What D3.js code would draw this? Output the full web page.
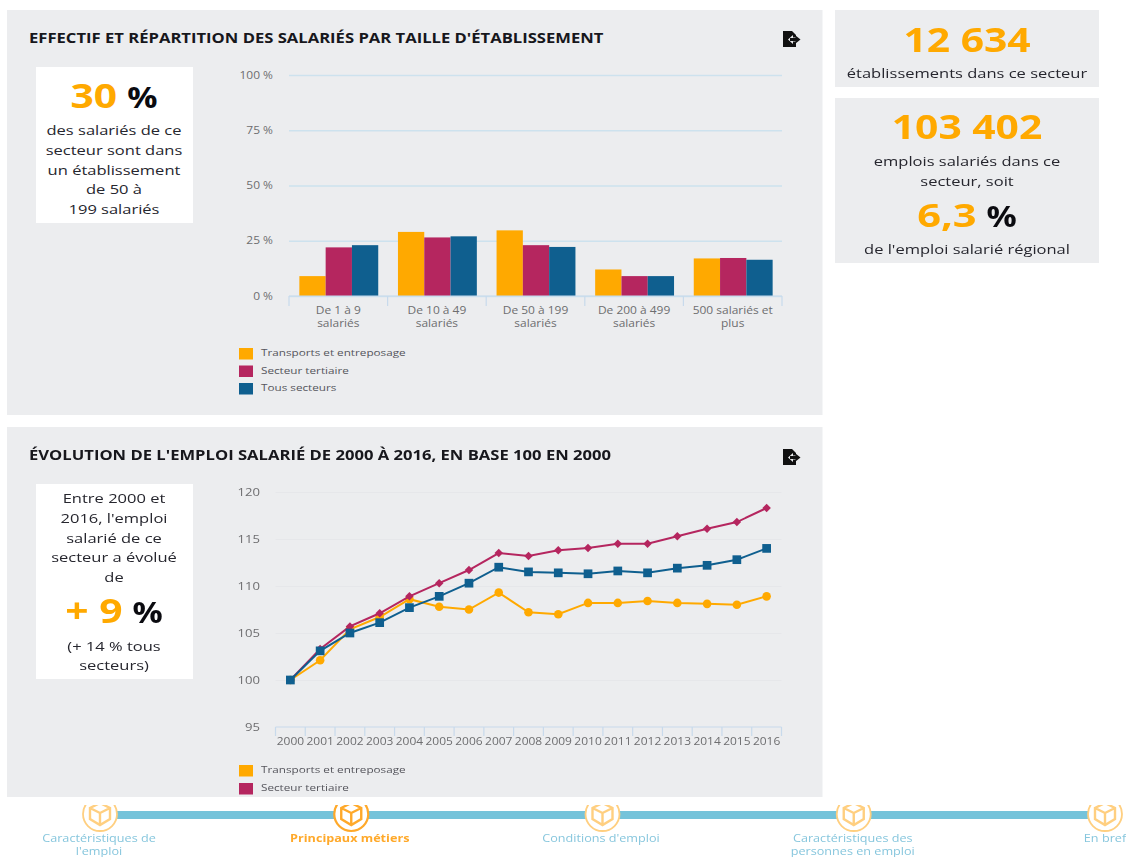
<!DOCTYPE html>
<html lang="fr">
<head>
<meta charset="utf-8">
<title>Emploi salarié</title>
<script src="https://cdn.jsdelivr.net/npm/d3@7"></script>
<style>
html,body{margin:0;padding:0;background:#fff;overflow:hidden}
svg{display:block;font-family:"Open Sans",sans-serif;filter:blur(0.35px)}
</style>
</head>
<body>
<svg id="c" width="1126" height="857"></svg>
<script>
// ---- data ----
const seriesNames = ["Transports et entreposage", "Secteur tertiaire", "Tous secteurs"];
const sizeCategories = ["De 1 à 9\nsalariés", "De 10 à 49\nsalariés", "De 50 à 199\nsalariés", "De 200 à 499\nsalariés", "500 salariés et\nplus"];
const sizeTransports = [9, 29, 29.7, 12, 17];
const sizeTertiaire = [22, 26.5, 23, 9, 17.2];
const sizeTous = [23, 27, 22.2, 9, 16.4];
const sizeTicks = [0, 25, 50, 75, 100];

const years = [2000,2001,2002,2003,2004,2005,2006,2007,2008,2009,2010,2011,2012,2013,2014,2015,2016];
const evoTransports = [100,102.1,105.4,106.7,108.6,107.8,107.5,109.3,107.2,107,108.2,108.2,108.4,108.2,108.1,108,108.9];
const evoTertiaire = [100,103.3,105.7,107.1,108.9,110.3,111.7,113.5,113.2,113.8,114.05,114.5,114.5,115.3,116.1,116.8,118.3];
const evoTous = [100,103.1,105,106.1,107.7,108.9,110.3,112,111.5,111.4,111.3,111.6,111.4,111.9,112.2,112.8,114];
const evoTicks = [95,100,105,110,115,120];

const steps = ["Caractéristiques de\nl'emploi", "Principaux métiers", "Conditions d'emploi", "Caractéristiques des\npersonnes en emploi", "En bref"];
const activeStep = 1;

// ---- style ----
const ORANGE = "#ffa900", CRIMSON = "#b5265f", BLUE = "#0f5f8f";
const colors = [ORANGE, CRIMSON, BLUE];
const PANEL = "#ecedef", INK = "#26262e", GREY = "#6e6e70", AXIS = "#c8daec";
const SX = 1.14, SX_BODY = 1.25, SX_BIG = 1.2, SX_TITLE = 1.187;

const svg = d3.select("#c");

function rect(x, y, w, h, fill) {
  return svg.append("rect").attr("x", x).attr("y", y).attr("width", w).attr("height", h).attr("fill", fill);
}
function txt(parent, x, y, s, size, fill, opt = {}) {
  const sx = opt.sx || SX;
  return parent.append("text")
    .attr("transform", `translate(${x},${y}) scale(${sx},1)`)
    .attr("text-anchor", opt.anchor || "middle")
    .attr("font-size", size)
    .attr("font-weight", opt.weight || 400)
    .attr("fill", fill)
    .text(s);
}
function stretchAxisText(g, dx, y, anchor, size) {
  g.selectAll("text")
    .attr("x", dx / SX).attr("y", y).attr("dy", null)
    .attr("transform", `scale(${SX},1)`)
    .attr("text-anchor", anchor)
    .attr("font-size", size)
    .attr("font-family", '"Open Sans",sans-serif')
    .attr("fill", GREY);
}
function exportIcon(x, y) {
  const g = svg.append("g").attr("transform", `translate(${x},${y})`);
  g.append("path").attr("fill", "#111").attr("d", "M0 0H9L13 4V16H0Z");
  g.append("path").attr("fill", PANEL).attr("d", "M5 8.5L10 4V6.5H18V10.5H10V13Z");
  g.append("path").attr("fill", "#111").attr("d", "M17.5 8.5L12.5 4.5V7H7V10H12.5V12.5Z");
}
function bigPair(x, y, a, b, sizeA, sizeB, gap, sxA = SX_BIG) {
  const g = svg.append("g");
  const ta = txt(g, 0, y, a, sizeA, ORANGE, {weight: 700, anchor: "start", sx: sxA});
  const tb = txt(g, 0, y, b, sizeB, "#0b0b10", {weight: 700, anchor: "start", sx: SX_BIG});
  const wa = ta.node().getComputedTextLength() * sxA;
  const wb = tb.node().getComputedTextLength() * SX_BIG;
  const start = x - (wa + gap + wb) / 2;
  ta.attr("transform", `translate(${start},${y}) scale(${sxA},1)`);
  tb.attr("transform", `translate(${start + wa + gap},${y}) scale(${SX_BIG},1)`);
}

// ---- panels ----
rect(7, 10, 815.5, 405, PANEL);
rect(7, 427, 815.5, 370, PANEL);
rect(835, 10, 264, 77, PANEL);
rect(835, 98, 264, 165, PANEL);
rect(36, 67, 157, 156, "#fff");
rect(36, 484, 157, 195, "#fff");

// ---- titles ----
txt(svg, 29, 43, "EFFECTIF ET RÉPARTITION DES SALARIÉS PAR TAILLE D'ÉTABLISSEMENT", 14, "#17171c", {weight: 700, anchor: "start", sx: SX_TITLE});
txt(svg, 29, 460, "ÉVOLUTION DE L'EMPLOI SALARIÉ DE 2000 À 2016, EN BASE 100 EN 2000", 14, "#17171c", {weight: 700, anchor: "start", sx: SX_TITLE});
exportIcon(783, 31);
exportIcon(783, 449);

// ---- key figures ----
const body = {sx: SX_BODY};
txt(svg, 967, 52, "12 634", 34, ORANGE, {weight: 700, sx: SX_BIG});
txt(svg, 967, 78, "établissements dans ce secteur", 13.2, INK, body);
txt(svg, 967, 139, "103 402", 34, ORANGE, {weight: 700, sx: SX_BIG});
txt(svg, 967, 166, "emplois salariés dans ce", 13.2, INK, body);
txt(svg, 967, 186, "secteur, soit", 13.2, INK, body);
bigPair(967, 227, "6,3", "%", 32, 28, 10, 1.3);
txt(svg, 967, 254, "de l'emploi salarié régional", 13.2, INK, body);

bigPair(114, 108, "30", "%", 34, 28, 10);
["des salariés de ce", "secteur sont dans", "un établissement", "de 50 à", "199 salariés"]
  .forEach((s, i) => txt(svg, 114, [135, 155, 174.5, 194, 214][i], s, 13.2, INK, body));
["Entre 2000 et", "2016, l'emploi", "salarié de ce", "secteur a évolué", "de"]
  .forEach((s, i) => txt(svg, 114, [503, 523, 543, 562, 582][i], s, 13.2, INK, body));
bigPair(114, 623, "+ 9", "%", 34, 28, 10);
txt(svg, 114, 651, "(+ 14 % tous", 13.2, INK, body);
txt(svg, 114, 670, "secteurs)", 13.2, INK, body);

// ---- bar chart ----
const x0 = d3.scaleBand().domain(sizeCategories).range([289, 782]).paddingInner(0.2).paddingOuter(0.1);
const x1 = d3.scaleBand().domain(seriesNames).range([0.5, x0.bandwidth() + 0.5]);
const yB = d3.scaleLinear().domain([0, 100]).range([296, 75]);
const sizeRows = [sizeTransports, sizeTertiaire, sizeTous];

const yAxisB = svg.append("g").attr("transform", "translate(289,0)")
  .call(d3.axisLeft(yB).tickValues(sizeTicks).tickFormat(d => d + " %").tickSize(-493));
yAxisB.select(".domain").remove();
yAxisB.selectAll("line").attr("stroke", "#cde2ee").attr("stroke-width", 1.4);
stretchAxisText(yAxisB, -16, 3, "end", 10.5);

svg.append("g").selectAll("g").data(sizeRows).join("g")
  .attr("fill", (d, i) => colors[i])
  .attr("data-series", (d, i) => seriesNames[i])
  .selectAll("rect").data((row, i) => row.map((v, j) => ({v, j, i}))).join("rect")
  .attr("x", d => x0(sizeCategories[d.j]) + x1(seriesNames[d.i]))
  .attr("width", x1.bandwidth())
  .attr("y", d => yB(d.v))
  .attr("height", d => yB(0) - yB(d.v));

function bandAxis(scale, y, tickLen) {
  const g = svg.append("g").attr("transform", `translate(0,${y})`);
  const [a, b] = scale.range();
  g.append("path").attr("fill", "none").attr("stroke", AXIS).attr("stroke-width", 1.2).attr("d", `M${a} 0H${b}`);
  const n = scale.domain().length;
  g.selectAll("line").data(d3.range(n + 1)).join("line")
    .attr("x1", i => a + i * (b - a) / n).attr("x2", i => a + i * (b - a) / n)
    .attr("y1", 0).attr("y2", tickLen)
    .attr("stroke", AXIS).attr("stroke-width", 1.2);
  return g;
}
const axB = bandAxis(x0, 296, 10);
sizeCategories.forEach(c => {
  c.split("\n").forEach((s, i) => {
    txt(axB, x0(c) + x0.bandwidth() / 2, 18 + i * 13, s, 10.5, GREY);
  });
});

function legend(names, ys) {
  const g = svg.append("g");
  names.forEach((n, i) => {
    g.append("rect").attr("x", 239).attr("y", ys[i]).attr("width", 14).attr("height", 11.5).attr("fill", colors[i]);
    txt(g, 261, ys[i] + 8, n, 9.5, "#55555c", {anchor: "start", sx: 1.235});
  });
}
legend(seriesNames, [348, 365.5, 383]);

// ---- line chart ----
const xL = d3.scaleBand().domain(years).range([275.5, 781.5]);
const yL = d3.scaleLinear().domain([95, 120]).range([727, 492]);

const yAxisL = svg.append("g").attr("transform", "translate(275.5,0)")
  .call(d3.axisLeft(yL).tickValues(evoTicks).tickSize(-506));
yAxisL.select(".domain").remove();
yAxisL.selectAll("line").attr("stroke", "#e6e7ea").attr("stroke-width", 1);
yAxisL.selectAll(".tick").filter(d => d === 95).select("line").remove();
stretchAxisText(yAxisL, -15.5, 3.5, "end", 11.5);

const axL = bandAxis(xL, 727, 9);
years.forEach(y => txt(axL, xL(y) + xL.bandwidth() / 2, 17.5, y, 11, GREY, {sx: 1.09}));

const line = d3.line().x((d, i) => xL(years[i]) + xL.bandwidth() / 2).y(d => yL(d));
const evoRows = [evoTransports, evoTertiaire, evoTous];
const symbols = [d3.symbolCircle, d3.symbolDiamond2, d3.symbolSquare];
const symbolSizes = [58, 46, 76];
evoRows.forEach((row, s) => {
  const g = svg.append("g").attr("data-series", seriesNames[s]);
  g.append("path").attr("d", line(row)).attr("fill", "none").attr("stroke", colors[s]).attr("stroke-width", 2);
  g.selectAll("path.m").data(row).join("path").attr("class", "m")
    .attr("transform", (d, i) => `translate(${xL(years[i]) + xL.bandwidth() / 2},${yL(d)})`)
    .attr("d", d3.symbol().type(symbols[s]).size(symbolSizes[s])())
    .attr("fill", colors[s]);
});
legend(seriesNames.slice(0, 2), [765, 783]);

// ---- timeline ----
const xS = d3.scalePoint().domain(steps).range([100, 1105]);
const nav = svg.append("g");
nav.append("rect").attr("x", xS(steps[0])).attr("y", 811).attr("width", xS(steps[4]) - xS(steps[0])).attr("height", 8).attr("fill", "#75c3da");
const clip = svg.append("clipPath").attr("id", "navclip");
clip.append("rect").attr("x", 0).attr("y", 805).attr("width", 1126).attr("height", 52);
steps.forEach((s, i) => {
  const active = i === activeStep;
  const stroke = active ? "#ffa92a" : "#ffcf80";
  const g = nav.append("g").attr("clip-path", "url(#navclip)");
  const cx = xS(s), cy = 814;
  const icon = g.append("g").attr("transform", `translate(${cx},${cy})`);
  icon.append("circle").attr("r", 17).attr("fill", "#fff").attr("stroke", stroke).attr("stroke-width", active ? 2.2 : 1.8);
  icon.append("path").attr("fill", "none").attr("stroke", stroke).attr("stroke-width", 2.4)
    .attr("d", "M0 -11L10 -6V5L0 11L-10 5V-6Z M-10 -6L0 -1L10 -6 M0 -1V11");
  s.split("\n").forEach((t, j) => {
    txt(nav, cx - (i === 0 || i === 3 ? 1 : 0) - (i === 1 || i === 2 ? 1.5 : 0), 842 + j * 13, t, 10.8, active ? "#ffa92a" : "#86c6dd", {weight: active ? 700 : 400, sx: 1.17});
  });
});
</script>
</body>
</html>
